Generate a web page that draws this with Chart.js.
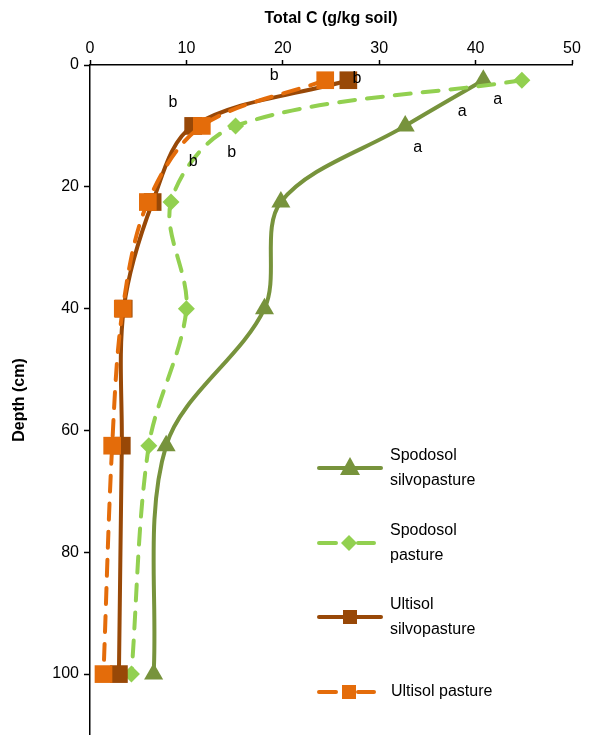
<html lang="en">
<head>
    <meta charset="UTF-8">
    <title>Total C by depth</title>
    <script src="https://cdn.jsdelivr.net/npm/chart.js@4.4.1/dist/chart.umd.min.js"></script>
    <style>
        body { margin: 0; background: #fff; }
        canvas { display: block; }
    </style>
</head>
<body>
    <canvas id="myChart" width="590" height="735"></canvas>

    <script>
        // depth of each sample (cm)
        const depths = [2.5, 10, 22.5, 40, 62.5, 100];
        // total C (g/kg soil)
        const spodosolSilvo = [40.8, 32.7, 19.8, 18.1, 7.9, 6.6];
        const spodosolPasture = [44.8, 15.1, 8.4, 10.0, 6.1, 4.3];
        const ultisolSilvo = [26.8, 10.7, 6.5, 3.5, 3.3, 3.0];
        const ultisolPasture = [24.4, 11.6, 6.0, 3.4, 2.3, 1.4];

        const xTicks = [0, 10, 20, 30, 40, 50];
        const yTicks = [0, 20, 40, 60, 80, 100];

        // significance letters, in data coordinates
        const letters = ['b', 'b', 'a', 'a', 'a', 'b', 'b', 'b'];
        const letterX = [19.1, 27.7, 42.3, 38.6, 34.0, 8.6, 10.7, 14.7];
        const letterY = [1.8, 2.3, 5.7, 7.7, 13.6, 6.2, 15.8, 14.3];

        const FONT = '"Liberation Sans", Arial, sans-serif';
        const OLIVE = '#77933c', LIME = '#92d050', BROWN = '#984807', ORANGE = '#e46c0a';

        function pts(vals) {
            return vals.map((v, i) => ({ x: v, y: depths[i] }));
        }

        function series(label, vals, color, style, radius, dashed, order) {
            return {
                label: label,
                data: pts(vals),
                showLine: true,
                tension: 0.33,
                borderColor: color,
                backgroundColor: color,
                borderWidth: 4,
                borderDash: dashed ? [16, 12] : [],
                borderCapStyle: 'round',
                pointStyle: style,
                pointRadius: radius,
                pointHoverRadius: radius,
                pointBorderWidth: 0,
                pointBackgroundColor: color,
                order: order
            };
        }

        const legendItems = [
            { lines: ['Spodosol', 'silvopasture'], color: OLIVE, style: 'triangle', dashed: false, y: 468 },
            { lines: ['Spodosol', 'pasture'], color: LIME, style: 'diamond', dashed: true, y: 543 },
            { lines: ['Ultisol', 'silvopasture'], color: BROWN, style: 'square', dashed: false, y: 617 },
            { lines: ['Ultisol pasture'], color: ORANGE, style: 'square', dashed: true, y: 692 }
        ];

        function marker(ctx, style, x, y, color) {
            ctx.fillStyle = color;
            ctx.beginPath();
            if (style === 'triangle') {
                ctx.moveTo(x, y - 11);
                ctx.lineTo(x + 10, y + 7);
                ctx.lineTo(x - 10, y + 7);
            } else if (style === 'diamond') {
                ctx.moveTo(x, y - 8);
                ctx.lineTo(x + 8, y);
                ctx.lineTo(x, y + 8);
                ctx.lineTo(x - 8, y);
            } else {
                ctx.rect(x - 7, y - 7, 14, 14);
            }
            ctx.closePath();
            ctx.fill();
        }

        const extras = {
            id: 'extras',
            afterDraw(chart) {
                const ctx = chart.ctx;
                const xs = chart.scales.x, ys = chart.scales.y;
                ctx.save();
                ctx.fillStyle = '#000';
                ctx.font = '16px ' + FONT;
                ctx.textAlign = 'center';
                ctx.textBaseline = 'middle';
                letters.forEach((t, i) => {
                    ctx.fillText(t, xs.getPixelForValue(letterX[i]), ys.getPixelForValue(letterY[i]));
                });

                // legend
                legendItems.forEach(item => {
                    ctx.strokeStyle = item.color;
                    ctx.lineWidth = 4;
                    ctx.lineCap = 'round';
                    ctx.beginPath();
                    if (item.dashed) {
                        ctx.moveTo(319, item.y); ctx.lineTo(336, item.y);
                        ctx.moveTo(358, item.y); ctx.lineTo(374, item.y);
                    } else {
                        ctx.moveTo(319, item.y); ctx.lineTo(381, item.y);
                    }
                    ctx.stroke();
                    marker(ctx, item.style, item.dashed ? 349 : 350, item.y, item.color);

                    ctx.fillStyle = '#000';
                    ctx.textAlign = 'left';
                    if (item.lines.length === 1) {
                        ctx.fillText(item.lines[0], 391, item.y);
                    } else {
                        ctx.fillText(item.lines[0], 390, item.y - 12);
                        ctx.fillText(item.lines[1], 390, item.y + 13);
                    }
                });
                ctx.restore();
            }
        };

        const chart = new Chart(document.getElementById('myChart').getContext('2d'), {
            type: 'scatter',
            data: {
                datasets: [
                    series('Spodosol silvopasture', spodosolSilvo, OLIVE, 'triangle', 11, false, 4),
                    series('Spodosol pasture', spodosolPasture, LIME, 'rectRot', 8.5, true, 3),
                    series('Ultisol silvopasture', ultisolSilvo, BROWN, 'rect', 12.5, false, 2),
                    series('Ultisol pasture', ultisolPasture, ORANGE, 'rect', 12.5, true, 1)
                ]
            },
            options: {
                responsive: false,
                animation: false,
                events: [],
                layout: { autoPadding: false, padding: { left: 0, top: 0, right: 18, bottom: 0 } },
                plugins: {
                    legend: { display: false },
                    tooltip: { enabled: false }
                },
                scales: {
                    x: {
                        type: 'linear',
                        position: 'top',
                        min: 0,
                        max: 50,
                        afterBuildTicks: s => { s.ticks = xTicks.map(v => ({ value: v })); },
                        afterFit: s => { s.height = 65; },
                        ticks: { color: '#000', font: { family: FONT, size: 16 }, padding: 2, maxRotation: 0 },
                        grid: { drawOnChartArea: false, drawTicks: true, tickLength: 5, tickColor: '#000', tickWidth: 1.5 },
                        border: { color: '#000', width: 1.5 },
                        title: {
                            display: true,
                            text: 'Total C (g/kg soil)',
                            color: '#000',
                            font: { family: FONT, size: 16, weight: 'bold' },
                            padding: { top: 9, bottom: 0 }
                        }
                    },
                    y: {
                        type: 'linear',
                        reverse: true,
                        min: 0,
                        max: 110,
                        afterBuildTicks: s => { s.ticks = yTicks.map(v => ({ value: v })); },
                        afterFit: s => { s.width = 90; s.paddingTop = 0; s.paddingBottom = 0; },
                        ticks: { color: '#000', font: { family: FONT, size: 16 }, padding: 5 },
                        grid: { drawOnChartArea: false, drawTicks: true, tickLength: 6, tickColor: '#000', tickWidth: 1.5 },
                        border: { color: '#000', width: 1.5 },
                        title: {
                            display: true,
                            text: 'Depth (cm)',
                            color: '#000',
                            font: { family: FONT, size: 16, weight: 'bold' },
                            padding: { top: 10, bottom: 0 }
                        }
                    }
                }
            },
            plugins: [extras]
        });
    </script>
</body>
</html>
